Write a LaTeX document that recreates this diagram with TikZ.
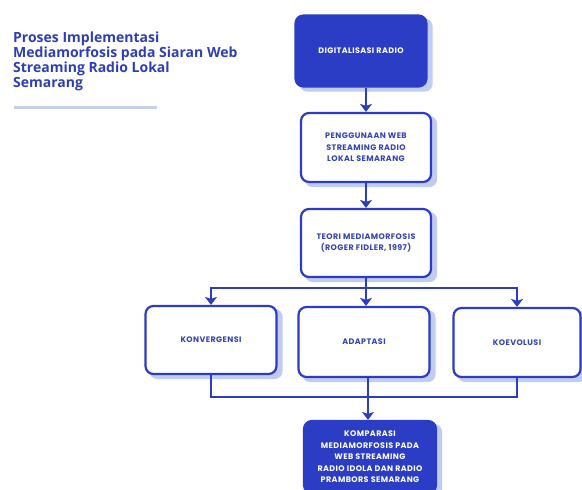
\documentclass[tikz,border=0pt]{standalone}
\usepackage{fontspec}
\usetikzlibrary{arrows.meta}
\newfontfamily\popfont{Poppins Bold}[LetterSpace=5]
\newfontfamily\titlefont{Open Sans Bold}
\definecolor{boxblue}{RGB}{43,61,196}
\definecolor{textblue}{RGB}{52,68,180}
\definecolor{titleblue}{RGB}{46,62,182}
\definecolor{shadowblue}{RGB}{192,204,240}
\definecolor{barblue}{RGB}{198,209,232}
\pgfdeclarelayer{back}
\pgfsetlayers{back,main}

\begin{document}
\begin{tikzpicture}[x=1pt,y=-1pt,
    box/.style={draw=boxblue, line width=2.2pt, rounded corners=8pt, fill=white,
        align=center, text=textblue, inner sep=0pt,
        font=\popfont\fontsize{8}{11.5}\selectfont},
    darkbox/.style={box, fill=boxblue, text=white},
    conn/.style={draw=boxblue, line width=2.6pt},
    arrow/.style={conn, -{Stealth[length=8pt,width=12pt,inset=2pt]}}]
    \useasboundingbox (0,0) rectangle (582,490);
    %title and bar
    \node[anchor=north west, inner sep=0pt, align=left, text=titleblue,
        font=\titlefont\fontsize{14}{14.9}\selectfont] (title) at (13,32)
        {Proses Implementasi\\Mediamorfosis pada Siaran Web\\Streaming Radio Lokal\\Semarang};
    \draw[barblue, line width=3pt] (14,107) -- (157,107);
    %boxes
    \node[darkbox, minimum width=131pt, minimum height=71pt] (digi) at (361,51) {DIGITALISASI RADIO};
    \node[box, minimum width=130pt, minimum height=69pt] (guna) at (366,147.5) {PENGGUNAAN WEB\\STREAMING RADIO\\LOKAL SEMARANG};
    \node[box, minimum width=130pt, minimum height=68pt] (teori) at (366,243) {TEORI MEDIAMORFOSIS\\(ROGER FIDLER, 1997)};
    \node[box, minimum width=131pt, minimum height=68pt] (konv) at (211,340) {KONVERGENSI};
    \node[box, minimum width=131pt, minimum height=70pt] (adap) at (364,342) {ADAPTASI};
    \node[box, minimum width=127pt, minimum height=69pt] (koev) at (517,342.5) {KOEVOLUSI};
    \node[darkbox, minimum width=132pt, minimum height=72pt] (komp) at (370,457)
        {KOMPARASI\\MEDIAMORFOSIS PADA\\WEB STREAMING\\RADIO IDOLA DAN RADIO\\PRAMBORS SEMARANG};
    %shadows behind the boxes
    \begin{pgfonlayer}{back}
        \fill[white] (0,0) rectangle (582,490);
        \foreach \n in {digi,guna,teori,konv,adap,koev,komp}
            \fill[shadowblue, rounded corners=8pt] ([shift={(5,4)}]\n.north west) rectangle ([shift={(5,4)}]\n.south east);
    \end{pgfonlayer}
    \coordinate (split) at (366,288);
    \coordinate (merge) at (368,397);
    %connectors
    \draw[arrow] (guna.north |- digi.south) -- (guna.north);
    \draw[arrow] (guna.south) -- (teori.north);
    \draw[arrow] (teori.south) -- (teori.south |- adap.north);
    \draw[arrow] (split) -| (konv);
    \draw[arrow] (split) -| (koev);
    \draw[conn] (konv) |- (merge) -| (koev);
    \draw[conn] (adap.south -| merge) -- (merge);
    \draw[arrow] (merge) -- (merge |- komp.north);
\end{tikzpicture}
\end{document}
